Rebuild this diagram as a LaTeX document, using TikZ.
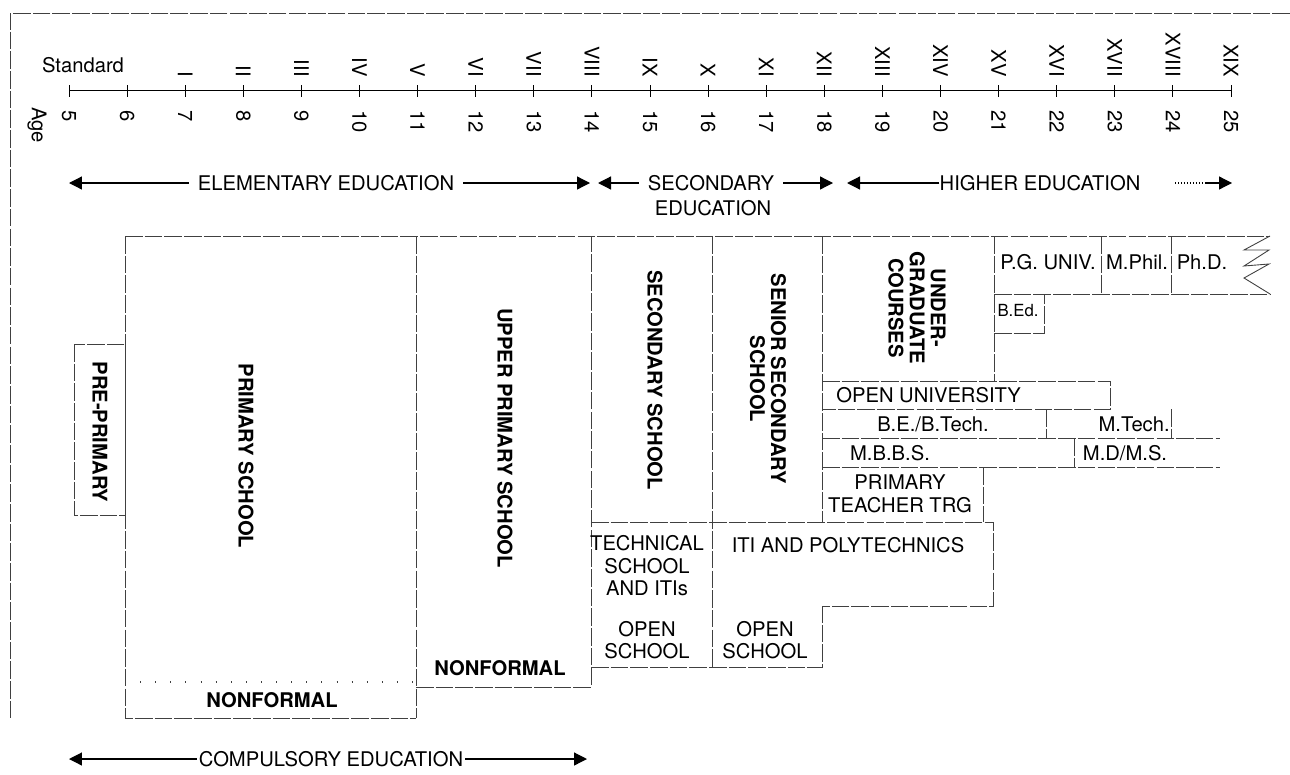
\documentclass[tikz,border=0pt]{standalone}
\usepackage{fontspec}
\setmainfont{TeX Gyre Heros}
\usetikzlibrary{arrows.meta}

\tikzset{
  boxline/.style={black!75, line width=0.5pt, dash pattern=on 10pt off 1.2pt},
  dotline/.style={black!75, line width=0.6pt, dash pattern=on 0.6pt off 8pt},
  lbl/.style={inner sep=0pt, font=\fontsize{11.5}{12.8}\selectfont},
  blbl/.style={inner sep=0pt, font=\fontsize{11.5}{12}\selectfont\bfseries},
  vlbl/.style={blbl, rotate=-90},
  eduarrow/.style={-{Triangle[length=2.6mm,width=2.6mm]}, line width=0.7pt},
}

\begin{document}
\begin{tikzpicture}[x=0.02cm, y=-0.02cm]
\useasboundingbox (0,0) rectangle (1290,774);

\def\agezero{69}
\def\agestep{58.1}
\def\axisy{90}

% outer frame
\draw[boxline] (1290,13) -- (10,13) -- (10,720);

% age axis and standards
\draw[line width=0.5pt] (\agezero,\axisy) -- (1231,\axisy);
\foreach \a in {5,...,25}{
  \path (\agezero,\axisy) +({\agestep*(\a-5)},0) coordinate (tick\a);
  \draw[line width=0.5pt] (tick\a) +(0,-5) -- +(0,7);
  \path (tick\a) +(0,20) node[lbl, rotate=-90, anchor=west] (age\a) {\a};
}
\foreach \a/\r in {7/I,8/II,9/III,10/IV,11/V,12/VI,13/VII,14/VIII,15/IX,16/X,
                   17/XI,18/XII,19/XIII,20/XIV,21/XV,22/XVI,23/XVII,24/XVIII,25/XIX}
  \path (tick\a) +(0,-13) node[lbl, rotate=-90, anchor=east] (std\a) {\r};

\node[lbl] (standard) at (83,65) {Standard};
\path (tick5) +(-32,17) node[lbl, rotate=-90, anchor=west] (agetitle) {Age};

% stage arrows
\node[lbl, inner xsep=5pt] (elem) at (326,183) {ELEMENTARY EDUCATION};
\coordinate (elem_l) at (69,183);
\coordinate (elem_r) at (590,183);
\draw[eduarrow] (elem) -- (elem_l);
\draw[eduarrow] (elem) -- (elem_r);

\node[lbl, inner xsep=5pt] (sec) at (711,183) {SECONDARY};
\node[lbl] (sec2) at (713,208) {EDUCATION};
\coordinate (sec_l) at (598,183);
\coordinate (sec_r) at (833,183);
\draw[eduarrow] (sec) -- (sec_l);
\draw[eduarrow] (sec) -- (sec_r);

\node[lbl] (high) at (1040,183) {HIGHER EDUCATION};
\coordinate (high_l) at (847,183);
\coordinate (high_d) at (1175,183);
\coordinate (high_m) at (1205,183);
\coordinate (high_r) at (1232,183);
\draw[eduarrow] (high) -- (high_l);
\draw[line width=0.7pt, densely dotted] (high_d) -- (high_m);
\draw[eduarrow] (high_m) -- (high_r);

\node[lbl, inner xsep=1pt] (comp) at (331,759) {COMPULSORY EDUCATION};
\coordinate (comp_l) at (69,759);
\coordinate (comp_r) at (587,759);
\draw[eduarrow] (comp) -- (comp_l);
\draw[eduarrow] (comp) -- (comp_r);

% elementary stuff:
\draw[boxline] (125,236) -- (1270,236);
\draw[boxline] (125,236) -- (125,718) -- (416,718);
\draw[dotline] (125,682) -- (416,682);
\draw[boxline] (416,236) -- (416,718);
\draw[boxline] (416,687) -- (591,687) -- (591,236);
\draw[boxline] (74,344) rectangle (125,515);

\node[vlbl] (preprimary) at (100,432) {PRE-PRIMARY};
\node[vlbl] (primary) at (246,456) {PRIMARY SCHOOL};
\node[blbl] (nonformal_pri) at (272,700) {NONFORMAL};
\node[vlbl] (upperprimary) at (505,438) {UPPER PRIMARY SCHOOL};
\node[blbl] (nonformal_up) at (500,668) {NONFORMAL};

% secondary stuff:
\draw[boxline] (712,236) -- (712,667);
\draw[boxline] (591,522) -- (993,522) -- (993,606) -- (822,606);
\draw[boxline] (591,667) -- (822,667) -- (822,606);

\node[vlbl] (secschool) at (655,380) {SECONDARY SCHOOL};
\node[vlbl, align=center] (senior) at (768,379) {SENIOR SECONDARY\\SCHOOL};
\node[lbl, align=center] (technical) at (647,566) {TECHNICAL\\SCHOOL\\AND ITIs};
\node[lbl, align=center] (open_a) at (647,640) {OPEN\\SCHOOL};
\node[lbl, align=center] (open_b) at (765,640) {OPEN\\SCHOOL};
\node[lbl] (iti) at (848,545) {ITI AND POLYTECHNICS};

% higher stuff:
\draw[boxline] (822,236) -- (822,522);
\draw[boxline] (994,236) -- (994,381);
\draw[boxline] (994,294) -- (1270,294);
\draw[boxline] (1101,236) -- (1101,294);
\draw[boxline] (1171,236) -- (1171,294);
\draw[line width=0.5pt, black!75] (1270,236) -- (1244,250) -- (1269,250) -- (1244,266)
  -- (1269,264) -- (1244,278) -- (1270,294);
\draw[boxline] (994,333) -- (1044,333) -- (1044,294);
\draw[boxline] (822,381) -- (1110,381) -- (1110,409) -- (822,409);
\draw[boxline] (822,438) -- (1220,438);
\draw[boxline] (822,467) -- (1220,467);
\draw[boxline] (1046,409) -- (1046,438);
\draw[boxline] (1171,409) -- (1171,438);
\draw[boxline] (1074,438) -- (1074,467);
\draw[boxline] (983,467) -- (983,522);

\node[vlbl, align=center] (undergrad) at (917,308) {UNDER-\\GRADUATE\\COURSES};
\node[lbl] (pguniv) at (1048,262) {P.G. UNIV.};
\node[lbl] (mphil) at (1137,262) {M.Phil.};
\node[lbl] (phd) at (1202,262) {Ph.D.};
\node[lbl, font=\fontsize{9.5}{11}\selectfont] (bed) at (1018,311) {B.Ed.};
\node[lbl, anchor=west] (openuniv) at (836,395) {OPEN UNIVERSITY};
\node[lbl] (betech) at (933,424) {B.E./B.Tech.};
\node[lbl, anchor=east] (mtech) at (1170,424) {M.Tech.};
\node[lbl] (mbbs) at (890,453) {M.B.B.S.};
\node[lbl] (mdms) at (1125,453) {M.D/M.S.};
\node[lbl, align=center] (teachertrg) at (900,494) {PRIMARY\\TEACHER TRG};

\end{tikzpicture}
\end{document}
